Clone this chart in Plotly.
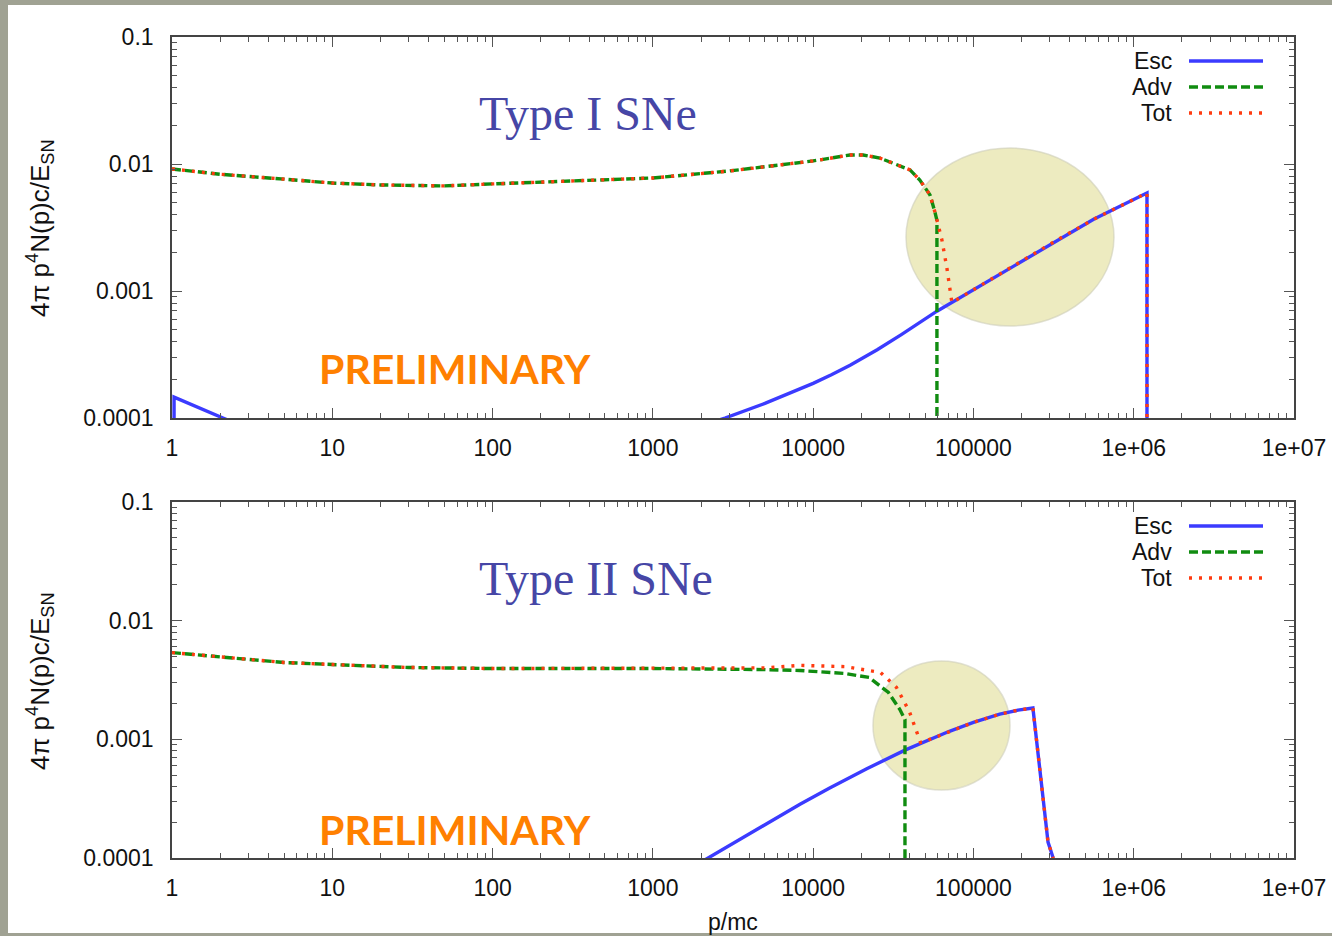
import plotly.graph_objects as go

# ---------------- data ----------------
# Top panel: Type I SNe
esc1_x = [1.03, 1.03, 2.08, 3.0, None, 2500, 2820, 5000, 7160, 10000, 13000, 17000, 25100,
          35500, 59200, 100000, 177800, 316200, 562300, 1e6, 1.21e6, 1.21e6]
esc1_y = [1e-6, 1.46e-4, 1.0e-4, 8.2e-5, None, 9.5e-5, 1.0e-4, 1.303e-4, 1.56e-4, 1.875e-4,
          2.193e-4, 2.606e-4, 3.451e-4, 4.539e-4, 6.934e-4, 1.023e-3, 1.585e-3, 2.427e-3,
          3.673e-3, 5.248e-3, 5.92e-3, 1e-6]

adv1_x = [1, 2, 5, 10, 20, 50, 100, 200, 500, 1000, 3000, 10000, 17000, 20500, 26100,
          32400, 40200, 46300, 53600, 57500, 59200, 59200]
adv1_y = [0.00914, 0.0083, 0.0076, 0.00708, 0.00684, 0.00672, 0.00697, 0.00721, 0.00748,
          0.00776, 0.00881, 0.01057, 0.01178, 0.01178, 0.01114, 0.0100, 0.00898, 0.00748,
          0.00570, 0.00419, 0.0036, 1e-6]

tot1_x = [1, 2, 5, 10, 20, 50, 100, 200, 500, 1000, 3000, 10000, 17000, 20500, 26100,
          32400, 40200, 46300, 53600, 57500, 63600, 68400, 73400, 100000, 177800, 316200,
          562300, 1e6, 1.21e6, 1.21e6]
tot1_y = [0.00914, 0.0083, 0.0076, 0.00708, 0.00684, 0.00672, 0.00697, 0.00721, 0.00748,
          0.00776, 0.00881, 0.01057, 0.01178, 0.01178, 0.01114, 0.0100, 0.00898, 0.00748,
          0.00570, 0.00419, 0.00252, 0.00150, 8.1e-4, 1.023e-3, 1.585e-3, 2.427e-3,
          3.673e-3, 5.248e-3, 5.92e-3, 1e-6]

# Bottom panel: Type II SNe
esc2_x = [1800, 2210, 3980, 8280, 12600, 21600, 37400, 50100, 70800, 100000, 146000,
          190000, 235000, 292000, 313000, 330000]
esc2_y = [8.5e-5, 1.0e-4, 1.603e-4, 2.838e-4, 3.873e-4, 5.649e-4, 8.11e-4, 9.66e-4,
          1.169e-3, 1.39e-3, 1.629e-3, 1.762e-3, 1.837e-3, 1.36e-4, 1.02e-4, 5e-5]

adv2_x = [1, 2, 5, 10, 30, 100, 1000, 5000, 8280, 15800, 22400, 29500, 34700, 37400, 37400]
adv2_y = [0.00538, 0.00498, 0.00444, 0.00427, 0.00403, 0.00395, 0.00395, 0.00387, 0.0038,
          0.00359, 0.00332, 0.00248, 0.00179, 0.00147, 1e-6]

tot2_x = [1, 2, 5, 10, 30, 100, 1000, 5000, 8280, 15800, 26300, 33100, 39800, 46800,
          50100, 70800, 100000, 146000, 190000, 235000, 292000, 313000, 330000]
tot2_y = [0.00538, 0.00498, 0.00444, 0.00427, 0.00403, 0.00395, 0.00395, 0.0040, 0.0042,
          0.0041, 0.00366, 0.00274, 0.00172, 9.4e-4, 9.66e-4, 1.169e-3, 1.39e-3, 1.629e-3,
          1.762e-3, 1.837e-3, 1.36e-4, 1.02e-4, 5e-5]

x_tickvals = [1, 10, 100, 1000, 10000, 100000, 1e6, 1e7]
x_ticktext = ["1", "10", "100", "1000", "10000", "100000", "1e+06", "1e+07"]
y_tickvals = [1e-4, 1e-3, 1e-2, 1e-1]
y_ticktext = ["0.0001", "0.001", "0.01", "0.1"]
legend_names = ["Esc", "Adv", "Tot"]
panel_titles = ["Type I SNe", "Type II SNe"]

# ---------------- styling ----------------
W, H = 1332, 936
BLUE = "#3b3bff"
GREEN = "#108c10"
RED = "#ff3b10"
FONT = "Liberation Sans, Arial, sans-serif"
GDASH = "9px,4px"
RDOT = "3px,7px"


def px_x(p):
    return p / W


def px_y(p):
    return 1 - p / H


x_minor = [m * 10 ** d for d in range(0, 7) for m in range(2, 10)]
y_minor = [m * 10 ** d for d in range(-4, -1) for m in range(2, 10)]

fig = go.Figure()

panels = [
    (esc1_x, esc1_y, adv1_x, adv1_y, tot1_x, tot1_y, "x", "y"),
    (esc2_x, esc2_y, adv2_x, adv2_y, tot2_x, tot2_y, "x2", "y2"),
]
for ex, ey, ax, ay, tx, ty, xa, ya in panels:
    fig.add_trace(go.Scatter(x=ex, y=ey, mode="lines", xaxis=xa, yaxis=ya, showlegend=False,
                             line=dict(color=BLUE, width=3.4), connectgaps=False))
    fig.add_trace(go.Scatter(x=ax, y=ay, mode="lines", xaxis=xa, yaxis=ya, showlegend=False,
                             line=dict(color=GREEN, width=3.4, dash=GDASH)))
    fig.add_trace(go.Scatter(x=tx, y=ty, mode="lines", xaxis=xa, yaxis=ya, showlegend=False,
                             line=dict(color=RED, width=3.4, dash=RDOT)))

xdom = [px_x(172), px_x(1294)]
doms = [[px_y(418), px_y(37)], [px_y(858), px_y(502)]]

axis_common = dict(
    type="log", showgrid=False, zeroline=False, showline=True, linecolor="#444444",
    linewidth=1.6, mirror="allticks", ticks="inside", ticklen=10, tickwidth=1.2,
    tickcolor="#555555", tickfont=dict(family=FONT, size=23, color="#111111"),
    automargin=False,
)

layout_axes = {}
for i, dom in enumerate(doms):
    xs = "xaxis" if i == 0 else "xaxis2"
    ys = "yaxis" if i == 0 else "yaxis2"
    layout_axes[xs] = dict(
        axis_common, domain=xdom, range=[0, 7], anchor="y" if i == 0 else "y2",
        tickmode="array", tickvals=x_tickvals, ticktext=x_ticktext, ticklabelstandoff=9,
        minor=dict(tickmode="array", tickvals=x_minor, ticks="inside", ticklen=5,
                   tickcolor="#555555", tickwidth=1, showgrid=False),
    )
    layout_axes[ys] = dict(
        axis_common, domain=dom, range=[-4, -1], anchor="x" if i == 0 else "x2",
        tickmode="array", tickvals=y_tickvals, ticktext=y_ticktext, ticklabelstandoff=12,
        minor=dict(tickmode="array", tickvals=y_minor, ticks="inside", ticklen=5,
                   tickcolor="#555555", tickwidth=1, showgrid=False),
    )

shapes = [
    # white page on a grey slide background
    dict(type="rect", xref="paper", yref="paper", x0=px_x(8), x1=1.0, y0=px_y(933), y1=px_y(5),
         fillcolor="white", line=dict(width=0), layer="below"),
    # highlight ellipses
    dict(type="circle", xref="paper", yref="paper", x0=px_x(906), x1=px_x(1114),
         y0=px_y(326), y1=px_y(148), fillcolor="#edebc0",
         line=dict(color="rgba(205,205,185,0.6)", width=1.5), layer="below"),
    dict(type="circle", xref="paper", yref="paper", x0=px_x(873), x1=px_x(1010),
         y0=px_y(790), y1=px_y(661), fillcolor="#edebc0",
         line=dict(color="rgba(205,205,185,0.6)", width=1.5), layer="below"),
]

annotations = []
legend_styles = [(BLUE, "solid"), (GREEN, GDASH), (RED, RDOT)]
for top_px in (61, 526):
    for k, (name, (col, dash)) in enumerate(zip(legend_names, legend_styles)):
        yy = top_px + 26 * k
        annotations.append(dict(xref="paper", yref="paper", x=px_x(1174), y=px_y(yy),
                                xanchor="right", yanchor="middle", text=name, showarrow=False,
                                font=dict(family=FONT, size=23, color="#111111")))
        shapes.append(dict(type="line", xref="paper", yref="paper", x0=px_x(1189),
                           x1=px_x(1263), y0=px_y(yy), y1=px_y(yy),
                           line=dict(color=col, width=3.4, dash=dash)))

# panel titles
for title, cy in zip(panel_titles, (113, 578)):
    annotations.append(dict(xref="paper", yref="paper", x=px_x(477), y=px_y(cy),
                            xanchor="left", yanchor="middle", text=title, showarrow=False,
                            font=dict(family="Liberation Serif, Times New Roman, serif",
                                      size=48, color="#4646a6")))
# PRELIMINARY stamps
for cy in (369, 829):
    annotations.append(dict(xref="paper", yref="paper", x=px_x(455), y=px_y(cy),
                            xanchor="center", yanchor="middle", text="<b>PRELIMINARY</b>",
                            showarrow=False,
                            font=dict(family="Lato, Roboto, sans-serif", size=41,
                                      color="#ff8000")))
# y axis titles
for cy in (228, 681):
    annotations.append(dict(xref="paper", yref="paper", x=px_x(40), y=px_y(cy),
                            xanchor="center", yanchor="middle", textangle=-90,
                            text="4π p<sup>4</sup>N(p)c/E<sub>SN</sub>", showarrow=False,
                            font=dict(family=FONT, size=26, color="#111111")))
# x axis title
annotations.append(dict(xref="paper", yref="paper", x=px_x(733), y=px_y(922),
                        xanchor="center", yanchor="middle", text="p/mc", showarrow=False,
                        font=dict(family=FONT, size=23, color="#111111")))

fig.update_layout(
    width=W, height=H, autosize=False,
    margin=dict(l=0, r=0, t=0, b=0, pad=0, autoexpand=False),
    paper_bgcolor="#a0a293", plot_bgcolor="rgba(0,0,0,0)",
    showlegend=False, shapes=shapes, annotations=annotations,
    **layout_axes,
)

fig.write_html(
    "out.html",
    config={"displayModeBar": False},
    post_script="document.body.style.margin='0';document.body.style.overflow='hidden';",
)
